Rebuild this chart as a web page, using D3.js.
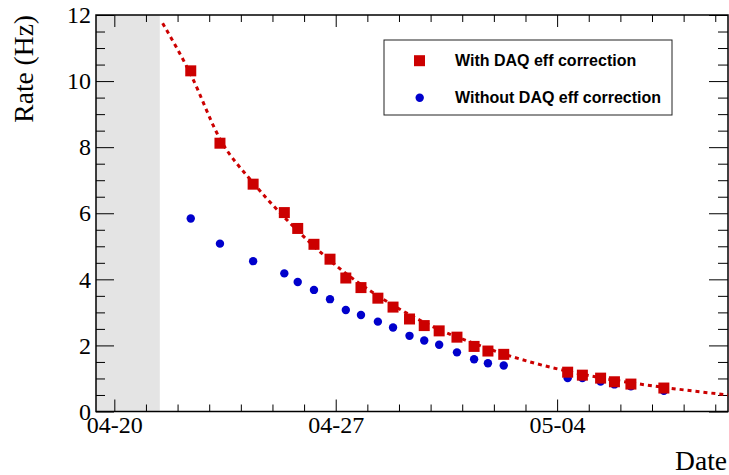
<!DOCTYPE html>
<html>
<head>
<meta charset="utf-8">
<script src="https://cdn.jsdelivr.net/npm/d3@7"></script>
<style>
  html, body { margin: 0; padding: 0; background: #fff; }
  svg { display: block; }
</style>
</head>
<body>
<svg id="chart" width="729" height="475"></svg>
<script>
// ---------- data ----------
const YEAR = "2021-";
const times = ["04-22T10:00","04-23T08:10","04-24T09:20","04-25T09:00","04-25T19:10","04-26T07:30",
  "04-26T19:40","04-27T07:40","04-27T19:10","04-28T08:00","04-28T19:30","04-29T08:00","04-29T19:10",
  "04-30T06:30","04-30T20:00","05-01T09:00","05-01T19:30","05-02T07:30","05-04T08:00","05-04T19:10",
  "05-05T09:00","05-05T19:30","05-06T08:00","05-07T09:00"];
const withCorr = [10.31, 8.12, 6.88, 6.02, 5.54, 5.06, 4.61, 4.04, 3.75, 3.43, 3.16, 2.80, 2.60,
  2.44, 2.25, 1.97, 1.83, 1.73, 1.19, 1.10, 1.01, 0.90, 0.83, 0.71];
const withoutCorr = [5.84, 5.08, 4.55, 4.18, 3.92, 3.68, 3.40, 3.07, 2.92, 2.72, 2.54, 2.29, 2.15,
  2.02, 1.79, 1.58, 1.46, 1.39, 1.01, 1.01, 0.91, 0.82, 0.76, 0.63];
// fit curve
const fitTimes = ["04-21T12:40","04-22T10:00","04-23T08:10","04-24T09:20","04-25T09:00","04-26T07:30",
  "04-27T07:40","04-28T08:00","04-29T08:00","04-30T06:30","05-01T09:00","05-02T07:30","05-03T07:10",
  "05-04T08:00","05-05T09:00","05-06T08:00","05-07T09:00","05-08T07:10","05-09T09:40"];
const fitValues = [11.75, 10.2, 8.25, 6.92, 5.88, 5.0, 4.18, 3.5, 2.93, 2.48, 2.06, 1.74, 1.46,
  1.22, 1.02, 0.87, 0.73, 0.62, 0.50];
const xDomain = ["04-19T10:06", "05-09T09:40"];
const shadeRange = ["04-19T10:06", "04-21T10:30"];
const majorTickDates = ["04-20", "04-27", "05-04"];
const majorTickLabels = ["04-20", "04-27", "05-04"];
const yTicks = [0, 2, 4, 6, 8, 10, 12];
const legendLabels = ["With DAQ eff correction", "Without DAQ eff correction"];

// ---------- setup ----------
const parse = d3.utcParse("%Y-%m-%dT%H:%M");
const P = s => parse(YEAR + (s.length === 5 ? s + "T00:00" : s));
const L = 96, R = 728, T = 15, B = 411.5;
const RED = "#cc0000", BLUE = "#0000cc";
const serif = "'Liberation Serif','Times New Roman',serif";
const sans = "'Liberation Sans',Arial,Helvetica,sans-serif";

const svg = d3.select("#chart");
const x = d3.scaleUtc().domain(xDomain.map(P)).range([L, R]);
const y = d3.scaleLinear().domain([0, 12]).range([B, T]);

// shaded region
svg.append("rect")
  .attr("x", x(P(shadeRange[0]))).attr("y", T)
  .attr("width", x(P(shadeRange[1])) - x(P(shadeRange[0])))
  .attr("height", B - T).attr("fill", "#e4e4e4");

// axes (ROOT-style ticks on all four sides, inward)
const majorX = majorTickDates.map(P);
const minorX = d3.utcDay.range(x.domain()[0], x.domain()[1]).filter(d => !majorX.some(m => +m === +d));
const minorY = d3.range(0, 12.01, 0.5).filter(v => !yTicks.includes(v));

const gb = svg.append("g").attr("transform", `translate(0,${B})`)
  .call(d3.axisBottom(x).tickValues(majorX).tickSize(-12).tickFormat((d, i) => majorTickLabels[i]).tickPadding(3));
svg.append("g").attr("transform", `translate(0,${B})`)
  .call(d3.axisBottom(x).tickValues(minorX).tickSize(-7).tickFormat(""));
svg.append("g").attr("transform", `translate(0,${T})`)
  .call(d3.axisTop(x).tickValues(majorX).tickSize(-12).tickFormat(""));
svg.append("g").attr("transform", `translate(0,${T})`)
  .call(d3.axisTop(x).tickValues(minorX).tickSize(-7).tickFormat(""));

svg.append("g").attr("transform", `translate(${L},0)`)
  .call(d3.axisLeft(y).tickValues(yTicks).tickSize(-18).tickPadding(5).tickFormat(d3.format("d")));
svg.append("g").attr("transform", `translate(${L},0)`)
  .call(d3.axisLeft(y).tickValues(minorY).tickSize(-9).tickFormat(""));
svg.append("g").attr("transform", `translate(${R},0)`)
  .call(d3.axisRight(y).tickValues(yTicks).tickSize(-19).tickFormat(""));
svg.append("g").attr("transform", `translate(${R},0)`)
  .call(d3.axisRight(y).tickValues(minorY).tickSize(-10).tickFormat(""));

svg.selectAll(".domain").remove();
svg.selectAll(".tick line").attr("stroke", "#000").attr("stroke-width", 1);
svg.selectAll(".tick text").attr("font-family", serif).attr("font-size", 24).attr("fill", "#000");
gb.selectAll(".tick text").attr("dy", "0.78em");

// frame
svg.append("rect").attr("x", L).attr("y", T).attr("width", R - L).attr("height", B - T)
  .attr("fill", "none").attr("stroke", "#000").attr("stroke-width", 1.5);

// fit line
const fit = fitTimes.map((t, i) => ({ d: P(t), v: fitValues[i] }));
svg.append("path").datum(fit)
  .attr("d", d3.line().x(d => x(d.d)).y(d => y(d.v)).curve(d3.curveMonotoneX))
  .attr("fill", "none").attr("stroke", RED).attr("stroke-width", 3)
  .attr("stroke-dasharray", "4,4");

// points
const pts = times.map((t, i) => ({ d: P(t), a: withCorr[i], b: withoutCorr[i] }));
svg.append("g").selectAll("circle").data(pts).join("circle")
  .attr("cx", d => x(d.d)).attr("cy", d => y(d.b)).attr("r", 4.2).attr("fill", BLUE);
const S = 11;
svg.append("g").selectAll("rect").data(pts).join("rect")
  .attr("x", d => x(d.d) - S / 2).attr("y", d => y(d.a) - S / 2)
  .attr("width", S).attr("height", S).attr("fill", RED);

// axis titles
svg.append("text").attr("transform", `translate(33,${T}) rotate(-90)`)
  .attr("text-anchor", "end").attr("font-family", serif).attr("font-size", 27.5)
  .text("Rate (Hz)");
svg.append("text").attr("x", 727).attr("y", 470).attr("text-anchor", "end")
  .attr("font-family", serif).attr("font-size", 27.5).text("Date");

// legend
const lg = svg.append("g");
lg.append("rect").attr("x", 384).attr("y", 40).attr("width", 288).attr("height", 75)
  .attr("fill", "#fff").attr("stroke", "#222").attr("stroke-width", 1);
lg.append("rect").attr("x", 419.5 - S / 2).attr("y", 60.7 - S / 2).attr("width", S).attr("height", S).attr("fill", RED);
lg.append("circle").attr("cx", 419.7).attr("cy", 97.7).attr("r", 4.2).attr("fill", BLUE);
legendLabels.forEach((t, i) => {
  lg.append("text").attr("x", 455).attr("y", 65.5 + i * 37)
    .attr("font-family", sans).attr("font-weight", "bold").attr("font-size", 16).text(t);
});
</script>
</body>
</html>
